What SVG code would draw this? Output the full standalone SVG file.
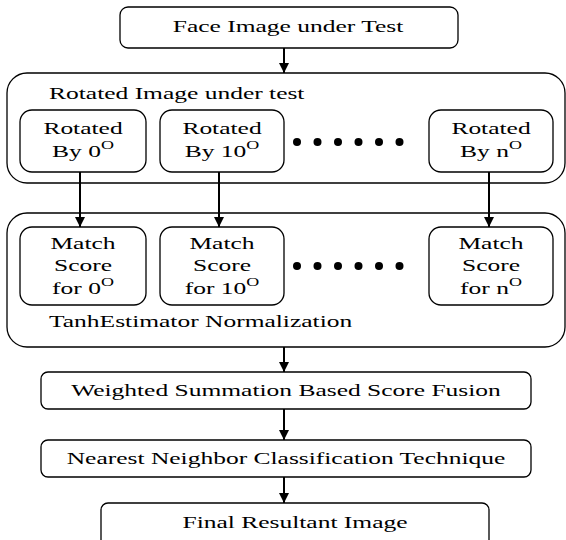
<svg xmlns="http://www.w3.org/2000/svg" width="566" height="540" viewBox="0 0 566 540">
<defs>
<marker id="ah" viewBox="0 0 10 10" refX="10" refY="5" markerWidth="10" markerHeight="10" markerUnits="userSpaceOnUse" orient="auto">
<path d="M0,0 L10,5 L0,10 z" fill="#000"/>
</marker>
</defs>
<style>
.box{fill:#fff;stroke:#000;stroke-width:1.3}
.t{font-family:"Liberation Serif","Times New Roman",serif;font-size:17px;fill:#000}
.c{text-anchor:middle}
.sup{font-size:12px}
.con line{stroke:#000;stroke-width:2;marker-end:url(#ah)}
.dot{fill:#000}
</style>
<rect width="566" height="540" fill="#fff"/>
<g id="face">
<rect class="box" x="120" y="7" width="338" height="41" rx="8"/>
<text class="t c" transform="translate(288,32) scale(1.5,1)">Face Image under Test</text>
</g>
<g id="rotated-group">
<rect class="box" x="7" y="73" width="558" height="110" rx="20"/>
<text class="t" transform="translate(49,99) scale(1.5,1)">Rotated Image under test</text>
</g>
<g id="rot0">
<rect class="box" x="20" y="110" width="126" height="62" rx="12"/>
<text class="t c" transform="translate(83,134) scale(1.5,1)">Rotated</text>
<text class="t c" transform="translate(83,157) scale(1.5,1)">By 0<tspan class="sup" dy="-8">O</tspan></text>
</g>
<g id="rot10">
<rect class="box" x="160" y="110" width="124" height="62" rx="12"/>
<text class="t c" transform="translate(222,134) scale(1.5,1)">Rotated</text>
<text class="t c" transform="translate(222,157) scale(1.5,1)">By 10<tspan class="sup" dy="-8">O</tspan></text>
</g>
<g id="rotn">
<rect class="box" x="429" y="110" width="124" height="62" rx="12"/>
<text class="t c" transform="translate(491,134) scale(1.5,1)">Rotated</text>
<text class="t c" transform="translate(491,157) scale(1.5,1)">By n<tspan class="sup" dy="-8">O</tspan></text>
</g>
<g id="dots1">
<circle class="dot" cx="297" cy="142" r="4"/>
<circle class="dot" cx="317.5" cy="142" r="4"/>
<circle class="dot" cx="338" cy="142" r="4"/>
<circle class="dot" cx="358.5" cy="142" r="4"/>
<circle class="dot" cx="379" cy="142" r="4"/>
<circle class="dot" cx="399.5" cy="142" r="4"/>
</g>
<g id="norm-group">
<rect class="box" x="7" y="213" width="558" height="134" rx="20"/>
<text class="t" transform="translate(49,327) scale(1.5,1)">TanhEstimator Normalization</text>
</g>
<g id="ms0">
<rect class="box" x="20" y="227" width="126" height="78" rx="12"/>
<text class="t c" transform="translate(83,249) scale(1.5,1)">Match</text>
<text class="t c" transform="translate(83,271) scale(1.5,1)">Score</text>
<text class="t c" transform="translate(83,294) scale(1.5,1)">for 0<tspan class="sup" dy="-8">O</tspan></text>
</g>
<g id="ms10">
<rect class="box" x="160" y="227" width="124" height="78" rx="12"/>
<text class="t c" transform="translate(222,249) scale(1.5,1)">Match</text>
<text class="t c" transform="translate(222,271) scale(1.5,1)">Score</text>
<text class="t c" transform="translate(222,294) scale(1.5,1)">for 10<tspan class="sup" dy="-8">O</tspan></text>
</g>
<g id="msn">
<rect class="box" x="429" y="227" width="124" height="78" rx="12"/>
<text class="t c" transform="translate(491,249) scale(1.5,1)">Match</text>
<text class="t c" transform="translate(491,271) scale(1.5,1)">Score</text>
<text class="t c" transform="translate(491,294) scale(1.5,1)">for n<tspan class="sup" dy="-8">O</tspan></text>
</g>
<g id="dots2">
<circle class="dot" cx="297" cy="266" r="4"/>
<circle class="dot" cx="317.5" cy="266" r="4"/>
<circle class="dot" cx="338" cy="266" r="4"/>
<circle class="dot" cx="358.5" cy="266" r="4"/>
<circle class="dot" cx="379" cy="266" r="4"/>
<circle class="dot" cx="399.5" cy="266" r="4"/>
</g>
<g id="fusion">
<rect class="box" x="41" y="372" width="490" height="37" rx="7"/>
<text class="t c" transform="translate(286,396) scale(1.5,1)">Weighted Summation Based Score Fusion</text>
</g>
<g id="nn">
<rect class="box" x="41" y="440" width="490" height="37" rx="7"/>
<text class="t c" transform="translate(286,464) scale(1.5,1)">Nearest Neighbor Classification Technique</text>
</g>
<g id="final">
<rect class="box" x="101" y="503" width="388" height="45" rx="7"/>
<text class="t c" transform="translate(295,528) scale(1.5,1)">Final Resultant Image</text>
</g>
<g id="connectors" class="con">
<line x1="284" y1="48" x2="284" y2="73"/>
<line x1="80" y1="172" x2="80" y2="227"/>
<line x1="219" y1="172" x2="219" y2="227"/>
<line x1="489" y1="172" x2="489" y2="227"/>
<line x1="284" y1="347" x2="284" y2="372"/>
<line x1="284" y1="409" x2="284" y2="440"/>
<line x1="284" y1="477" x2="284" y2="503"/>
</g>
</svg>
